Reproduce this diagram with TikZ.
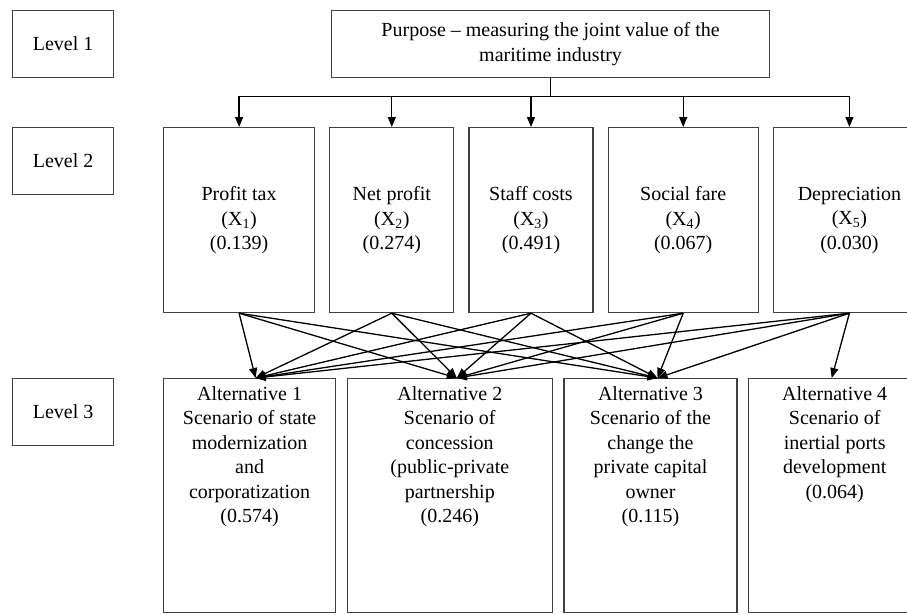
\documentclass[tikz,border=0pt]{standalone}
\usepackage{fontspec}
\setmainfont{Liberation Serif}
\usetikzlibrary{arrows.meta,positioning}

\begin{document}
\begin{tikzpicture}[
  x=1pt, y=-1pt,
  lvl/.style   = {rectangle, draw=black!75, line width=1.2pt, minimum width=101pt,
                  minimum height=67pt, inner sep=0pt},
  goal/.style  = {rectangle, draw=black!75, line width=1.2pt, minimum width=438pt,
                  minimum height=67pt, align=center, inner sep=0pt},
  crit/.style  = {rectangle, draw=black!75, line width=1.2pt, minimum height=185pt,
                  align=center, inner sep=0pt},
  alt/.style   = {rectangle, draw=black!75, line width=1.2pt, minimum height=234pt,
                  inner sep=0pt},
  alttext/.style = {align=center, inner sep=0pt, anchor=north},
  link/.style  = {line width=1.3pt},
  arr/.style   = {-{Triangle[length=10pt,width=8pt]}, line width=1.3pt},
  font = \fontsize{20}{24.5}\selectfont,
]
  \useasboundingbox (0,0) rectangle (907,614);

  % level labels
  \node[lvl, anchor=north west] (lv1) at (12,10)  {Level 1};
  \node[lvl, anchor=north west] (lv2) at (12,127) {Level 2};
  \node[lvl, anchor=north west] (lv3) at (12,378) {Level 3};

  % goal
  \node[goal, anchor=north west] (goal) at (331,10)
    {Purpose -- measuring the joint value of the\\maritime industry};

  % criteria
  \node[crit, minimum width=151pt, anchor=north west] (x1) at (163,127)
    {Profit tax\\(X\textsubscript{1})\\(0.139)};
  \node[crit, minimum width=124pt, right=14pt of x1] (x2)
    {Net profit\\(X\textsubscript{2})\\(0.274)};
  \node[crit, minimum width=124pt, right=14pt of x2] (x3)
    {Staff costs\\(X\textsubscript{3})\\(0.491)};
  \node[crit, minimum width=150pt, right=14pt of x3] (x4)
    {Social fare\\(X\textsubscript{4})\\(0.067)};
  \node[crit, minimum width=152pt, right=14pt of x4] (x5)
    {Depreciation\\(X\textsubscript{5})\\(0.030)};

  % alternatives
  \node[alt, minimum width=172pt, anchor=north west] (a1) at (163,378) {};
  \node[alt, minimum width=205pt, right=10.5pt of a1] (a2) {};
  \node[alt, minimum width=173pt, right=10.5pt of a2] (a3) {};
  \node[alt, minimum width=172pt, right=10.5pt of a3] (a4) {};

  \node[alttext] (a1t) at ([yshift=-8pt]a1.north)
    {Alternative 1\\Scenario of state\\modernization\\and\\corporatization\\(0.574)};
  \node[alttext] (a2t) at ([yshift=-8pt]a2.north)
    {Alternative 2\\Scenario of\\concession\\(public-private\\partnership\\(0.246)};
  \node[alttext] (a3t) at ([yshift=-8pt]a3.north)
    {Alternative 3\\Scenario of the\\change the\\private capital\\owner\\(0.115)};
  \node[alttext] (a4t) at ([yshift=-8pt]a4.north)
    {Alternative 4\\Scenario of\\inertial ports\\development\\(0.064)};

  % goal to criteria
  \coordinate (jn) at ([yshift=-18pt]goal.south);
  \draw[link] (goal.south) -- (jn);
  \draw[link] (jn -| x1) -- (jn -| x5);
  \foreach \i in {1,...,5}
    \draw[arr] (jn -| x\i) -- (x\i.north);

  % criteria to alternatives
  \coordinate (t1) at ([xshift=6pt]a1.north);
  \coordinate (t2) at ([xshift=7pt]a2.north);
  \coordinate (t3) at ([xshift=7pt]a3.north);
  \coordinate (t4) at ([xshift=-3pt]a4.north);
  \foreach \i in {1,...,5}
    \foreach \j in {1,2,3}
      \draw[arr] (x\i.south) -- (t\j);
  \draw[arr] (x5.south) -- (t4);
\end{tikzpicture}
\end{document}
